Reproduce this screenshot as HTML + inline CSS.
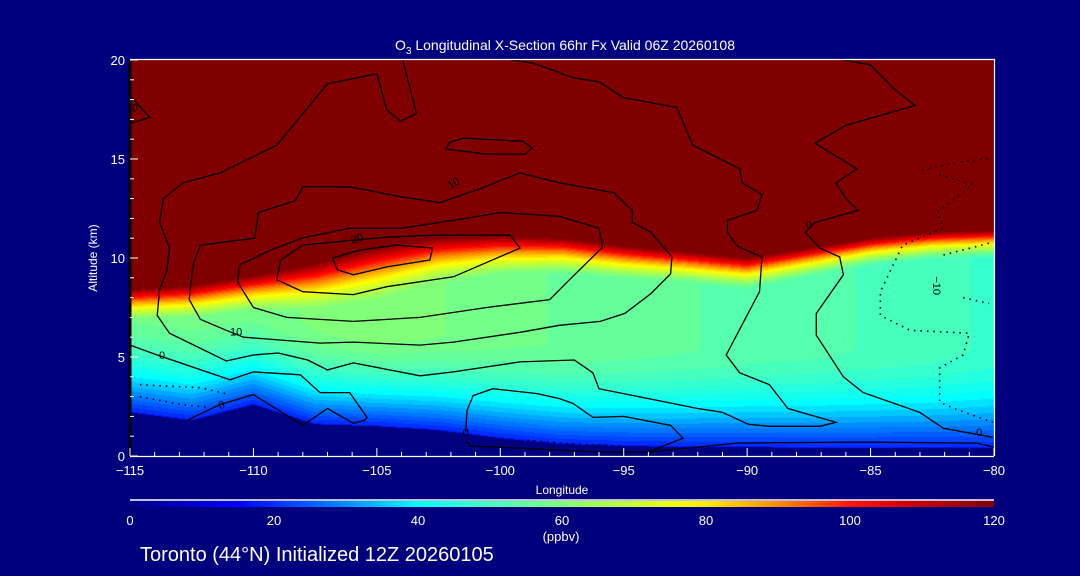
<!DOCTYPE html>
<html><head><meta charset="utf-8">
<style>
html,body{margin:0;padding:0;background:#00007f;}
#wrap{position:relative;width:1080px;height:576px;background:#00007f;overflow:hidden;font-family:"Liberation Sans",sans-serif;color:#fff;}
canvas{position:absolute;left:130px;top:60px;}
svg{position:absolute;left:0;top:0;}
</style></head>
<body>
<div id="wrap">
<canvas id="fld" width="864" height="396"></canvas>
<svg id="svg" width="1080" height="576"></svg>
</div>
<script>
// ---- data ----
const lons = [-115,-112.5,-110,-107.5,-105,-102.5,-100,-97.5,-95,-92.5,-90,-87.5,-85,-82.5,-80];
const groundKm = [2.2,1.8,2.6,1.6,1.5,1.3,0.9,0.6,0.5,0.45,0.45,0.4,0.4,0.4,0.4];
const tropoKm = [8.4,8.6,9.1,9.7,10.5,11.0,11.1,11.0,10.6,10.3,10.0,10.5,11.0,11.3,11.4];
const transKm = [1.6,1.7,1.8,2.4,2.6,2.3,2.0,1.8,1.7,1.6,1.6,1.5,1.4,1.4,1.4];
const midVal = [57,57,58,59,61,59,57,56,55,54,53,52,51,50,48];
const xTicks = [-115,-110,-105,-100,-95,-90,-85,-80];
const yTicks = [0,5,10,15,20];
const cbTicks = [0,20,40,60,80,100,120];
const cOuterTop = [[-99.6,20],[-98.7,19.85],[-97.9,19.5],[-97.05,19.1],[-96,18.9],[-95,18.1],[-92.85,17.6],[-92.2,15.7],[-90.3,14.5],[-90.2,13.8],[-89.4,13.2],[-89.6,12.4],[-90.8,11.9],[-90.8,11.3],[-90.4,10.6],[-89.4,10.05],[-89.5,8.3],[-90.85,5.1],[-90.3,4.2],[-89.1,3.6],[-88.35,2.4],[-86.4,1.7],[-87.05,1.5],[-89.1,1.5],[-89.95,1.6],[-91,2.2],[-92,2.4],[-96,3.4],[-96.25,4.2],[-97,4.85],[-99.2,4.75],[-101.9,4.25],[-103.25,4.05],[-105.95,4.7],[-107,4.35],[-107.8,4.85],[-109,5.2],[-110,5.1],[-111.1,4.8],[-113.4,6.2],[-113.9,7.1],[-113.8,8.4],[-113.5,9.4],[-113.4,10.5],[-113.8,11.8],[-113.65,13],[-112.85,13.8],[-111.35,14.3],[-109.05,15.7],[-107,18.8],[-105,19.3],[-104.6,17.5],[-104.05,16.9],[-103.4,17.3],[-103.95,20]];
const c10 = [[-112.6,7.9],[-112.45,9.65],[-112.15,10.65],[-109.95,11],[-109.8,12.3],[-108.3,12.9],[-108,13.6],[-106.1,13.6],[-104.05,13.1],[-102.45,12.8],[-100.8,13.5],[-99.2,14.3],[-97.6,13.8],[-95.4,13.3],[-94.65,12.4],[-94.65,11.8],[-93.9,11.3],[-93.05,10.05],[-93.1,9.2],[-93.9,8.2],[-94.95,7.2],[-95.95,6.8],[-97.6,6.6],[-99.2,6.25],[-101.9,5.75],[-103.25,5.6],[-105.95,5.75],[-107.3,5.7],[-110.4,6],[-111.1,6.35],[-112.15,6.9],[-112.6,7.9]];
const c15 = [[-110.65,8.8],[-110.55,9.65],[-109.3,10.4],[-108.05,11],[-106.1,11.5],[-104.05,11.5],[-101.9,11.9],[-100,12.3],[-97.6,12.1],[-96,11.5],[-95.85,10.55],[-97.2,8.9],[-98,7.9],[-100.55,7.5],[-103.25,7],[-105.95,6.8],[-108.65,7],[-110,7.5],[-110.65,8.8]];
const c20 = [[-109.05,8.9],[-108,8.3],[-105.95,8.15],[-104.6,8.55],[-101.9,9.05],[-99.2,10.5],[-99.6,11.15],[-102.7,11.15],[-104.6,11.05],[-105.95,10.9],[-108,10.65],[-108.9,9.9],[-109.05,8.9]];
const c25 = [[-106.8,10],[-106.6,9.4],[-105.95,9.15],[-104.6,9.55],[-102.85,9.9],[-102.75,10.5],[-104.2,10.65],[-105.7,10.4],[-106.8,10]];
const cOval = [[-102.05,15.85],[-101.5,16.05],[-99.1,15.9],[-98.7,15.55],[-99,15.25],[-100.55,15.25],[-102.2,15.5],[-102.05,15.85]];
const cLeftTop = [[-115,18.2],[-114.2,17.1],[-115,16.8]];
const cRight = [[-86.1,20],[-85,19.75],[-84.1,18.6],[-83.2,17.7],[-86,16.7],[-87.25,15.8],[-85.55,14.5],[-86.4,13.8],[-86,13],[-85.5,12.4],[-87.25,11.8],[-87.65,11.3],[-87.05,10.5],[-86.25,10.05],[-86.1,9.15],[-87.2,7.2],[-87.2,6.1],[-86.1,4],[-85.3,3.2],[-83,2.2],[-82.05,1.4],[-80.05,0.95]];
const cLow0 = [[-115,5.6],[-113.9,5.1],[-110.95,3.85],[-110,4.25],[-108.1,4.1],[-107.3,3.2],[-106.1,3.2],[-105.4,1.95],[-105.5,1.8],[-105.95,1.65],[-107,2.4],[-108,1.55],[-110,3.1],[-111.35,2.6],[-112.7,1.8]];
const cBotMid = [[-101.4,1.2],[-101.35,2.3],[-101.1,3.05],[-100.3,3.4],[-98.5,3.15],[-97.6,2.9],[-97.05,2.65],[-96.25,1.95],[-95,2],[-93.1,1.55],[-92.6,0.9],[-94,0.2],[-96,0.2],[-99.2,0.4],[-101.2,0.5],[-101.4,0.8]];
const cGround = [[-94,0.2],[-90.4,0.65],[-86.1,0.7],[-84.75,0.7],[-80.7,0.65],[-80,0.45]];
const dNeg10Top = [[-82.9,14.45],[-81.4,14.85],[-80.05,15.05]];
const dNeg10 = [[-82.2,14.2],[-80.85,13.7],[-82.3,12.3],[-82.05,11.5],[-83.7,10.65],[-84.6,8.3],[-84.6,7.1],[-83.4,6.35],[-81,6.2],[-81.25,5.1],[-82.2,4.45],[-82.2,2.7],[-81.4,2.3],[-80.05,1.7]];
const dInnerA = [[-82.05,10.15],[-80.05,10.8]];
const dInnerB = [[-81.25,8.0],[-80.2,7.7]];
const dLeftA = [[-114.6,3.6],[-112.15,3.45],[-110.95,3.1]];
const dLeftB = [[-114.6,3.0],[-112.95,2.6],[-111.75,2.45]];
const dBot = [[-98.9,0.8],[-97,0.6],[-95,0.5]];
const labels = [["0",-114.8,17.6,0],["10",-101.9,13.8,-30],["20",-105.8,11.0,-20],["10",-110.7,6.3,0],["0",-113.7,5.1,0],["0",-111.3,2.6,-20],["0",-101.4,1.2,0],["0",-87.5,11.7,0],["0",-80.6,1.2,0],["\u221210",-82.3,8.6,90]];

// ---- axes ----
const X0=130,X1=994,Y0=456,Y1=60;
const xs = l => X0 + (l+115)/35*(X1-X0);
const ys = a => Y0 - a/20*(Y0-Y1);
const cx = v => X0 + v/120*(X1-X0);

function interp(arr,l){
  if(l<=lons[0]) return arr[0];
  for(let i=0;i<lons.length-1;i++){
    if(l<=lons[i+1]){const t=(l-lons[i])/(lons[i+1]-lons[i]);return arr[i]+(arr[i+1]-arr[i])*t;}
  }
  return arr[arr.length-1];
}
const stops=[[0,[0,0,135]],[15,[0,0,255]],[30,[0,140,255]],[40,[0,255,255]],[50,[70,255,190]],[60,[130,255,120]],[70,[200,255,50]],[78,[255,255,0]],[90,[255,140,0]],[102,[255,0,0]],[120,[128,0,0]]];
function cmap(v){
  v=Math.max(0,Math.min(120,v));
  for(let i=0;i<stops.length-1;i++){
    if(v<=stops[i+1][0]){const t=(v-stops[i][0])/(stops[i+1][0]-stops[i][0]);
      return stops[i][1].map((c,k)=>Math.round(c+(stops[i+1][1][k]-c)*t));}
  }
  return stops[stops.length-1][1];
}
// ---- field ----
(function(){
  const cv=document.getElementById('fld');const ctx=cv.getContext('2d');
  const W=cv.width,H=cv.height;const img=ctx.createImageData(W,H);
  for(let px=0;px<W;px++){
    const l=-115+(px+0.5)/W*35;
    const g=interp(groundKm,l),T=interp(tropoKm,l),Wt=interp(transKm,l),m=interp(midVal,l);
    for(let py=0;py<H;py++){
      const z=(H-py-0.5)/H*20;let v,col;
      if(z<g){col=[0,0,128];}
      else{
        if(z>=T-Wt){const s=Math.min(1,(z-(T-Wt))/Wt);v=m+(120-m)*Math.pow(s,1.3);}
        else{const f=Math.min(1,(z-g)/5);v=18+(m-18)*(1-Math.pow(1-f,1.7));}
        v=Math.round(v/2.5)*2.5;col=cmap(v);
      }
      const k=(py*W+px)*4;img.data[k]=col[0];img.data[k+1]=col[1];img.data[k+2]=col[2];img.data[k+3]=255;
    }
  }
  ctx.putImageData(img,0,0);
})();
// ---- overlay ----
const svg=document.getElementById('svg');const NS='http://www.w3.org/2000/svg';
function mk(tag,attrs,parent){const e=document.createElementNS(NS,tag);for(const k in attrs)e.setAttribute(k,attrs[k]);(parent||svg).appendChild(e);return e;}
const clip=mk('clipPath',{id:'pc'});mk('rect',{x:X0,y:Y1,width:X1-X0,height:Y0-Y1},clip);
const g=mk('g',{'clip-path':'url(#pc)'});
function cl(pts,name,dotted){
  const e=mk('polyline',{points:pts.map(p=>xs(p[0]).toFixed(1)+','+ys(p[1]).toFixed(1)).join(' '),fill:'none',stroke:'#000','stroke-width':dotted?1.6:1.3,'stroke-dasharray':dotted?'1.5 5':'none'},g);
  
  
}
cl(cOuterTop,'contour-outer');cl(c10,'contour-10');cl(c15,'contour-15');cl(c20,'contour-20');cl(c25,'contour-25');
cl(cOval,'contour-oval');cl(cLeftTop,'contour-left-top');cl(cRight,'contour-right');cl(cLow0,'contour-0-low');
cl(cBotMid,'contour-0-bottom');cl(cGround,'contour-ground');
cl(dNeg10Top,'contour-neg10-top',true);cl(dNeg10,'contour-neg10',true);cl(dInnerA,'contour-neg-inner-a',true);cl(dInnerB,'contour-neg-inner-b',true);
cl(dLeftA,'contour-neg-left-a',true);cl(dLeftB,'contour-neg-left-b',true);cl(dBot,'contour-neg-bottom',true);
labels.forEach(L=>{
  const x=xs(L[1]),y=ys(L[2]);
  const t=mk('text',{x:x,y:y+4,'font-size':11,fill:'#000','text-anchor':'middle',transform:`rotate(${L[3]} ${x} ${y})`,'font-family':'Liberation Sans, sans-serif'},g);
  t.textContent=L[0];
  
  
});
// frame
const fr=mk('path',{d:`M${X0} ${Y1-0.5}H${X1+0.5}V${Y0}`,stroke:'#fff','stroke-width':1.2,fill:'none'});

mk('line',{x1:X0,y1:Y1,x2:X0,y2:Y0,stroke:'#000','stroke-width':3});
mk('line',{x1:X0,y1:Y0+0.5,x2:X1,y2:Y0+0.5,stroke:'#fff','stroke-width':1.2});
for(let l=-115;l<=-80;l++){
  const major=(l%5===0);
  mk('line',{x1:xs(l),y1:Y0,x2:xs(l),y2:Y0-(major?8:4),stroke:'#fff','stroke-width':1});
}
xTicks.forEach(l=>{const t=mk('text',{x:xs(l),y:475,'font-size':13,fill:'#fff','text-anchor':'middle'});t.textContent=(l<0?'\u2212':'')+Math.abs(l);
  });
for(let a=0;a<=20;a++){
  const major=(a%5===0);
  mk('line',{x1:X0,y1:ys(a),x2:X0+(major?8:4),y2:ys(a),stroke:'#fff','stroke-width':1});
}
yTicks.forEach(a=>{const t=mk('text',{x:125,y:ys(a)+5,'font-size':13,fill:'#fff','text-anchor':'end'});t.textContent=a;
  });
let t;
t=mk('text',{x:97,y:258,'font-size':12,fill:'#fff','text-anchor':'middle',transform:'rotate(-90 97 258)'});t.textContent='Altitude (km)';

t=mk('text',{x:562,y:494,'font-size':12,fill:'#fff','text-anchor':'middle'});t.textContent='Longitude';

t=mk('text',{x:565,y:50,'font-size':14,fill:'#fff','text-anchor':'middle'});
t.innerHTML='O<tspan font-size="10" dy="4">3</tspan><tspan dy="-4"> Longitudinal X-Section 66hr  Fx Valid 06Z 20260108</tspan>';

const defs=mk('defs',{});const lg=mk('linearGradient',{id:'cb',x1:0,x2:1,y1:0,y2:0},defs);
for(let v=0;v<=120;v+=5){const c=cmap(v);mk('stop',{offset:v/120,'stop-color':`rgb(${c})`},lg);}
mk('line',{x1:X0,y1:500,x2:X1,y2:500,stroke:'#fff','stroke-width':1.5});
const cb=mk('rect',{x:X0,y:501,width:X1-X0,height:6,fill:'url(#cb)'});

cbTicks.forEach(v=>{const tt=mk('text',{x:cx(v),y:525,'font-size':13,fill:'#fff','text-anchor':'middle'});tt.textContent=v;
  });
t=mk('text',{x:561,y:541,'font-size':13,fill:'#fff','text-anchor':'middle'});t.textContent='(ppbv)';

t=mk('text',{x:140,y:561,'font-size':20,fill:'#fff'});t.textContent='Toronto (44\u00B0N) Initialized 12Z 20260105';

</script>
</body></html>
